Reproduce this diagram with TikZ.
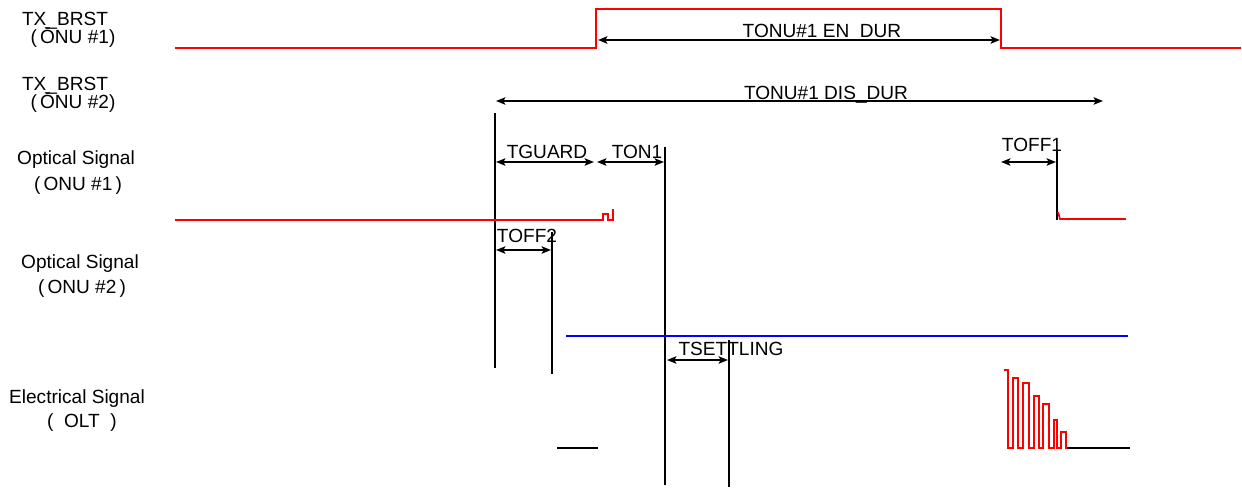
\documentclass[tikz,border=0pt]{standalone}
\usepackage{fontspec}
\setmainfont{Liberation Sans}
\usetikzlibrary{arrows.meta}
\begin{document}
\begin{tikzpicture}[x=0.75pt,y=-0.75pt,
  lbl/.style={font=\fontsize{14.3}{17}\selectfont, inner sep=0pt, anchor=base},
  dimline/.style={line width=1.6pt, {Stealth[length=7pt,width=5.5pt,inset=1.5pt]}-{Stealth[length=7pt,width=5.5pt,inset=1.5pt]}},
  vline/.style={line width=1.7pt},
  redwave/.style={red, line width=1.3pt},
  pulse/.style={red, line width=1.6pt, line join=miter},
  bluewave/.style={blue, line width=1.7pt},
  flat/.style={black, line width=2pt}]
\useasboundingbox (0,0) rectangle (1242,487);

% left labels
\node[lbl] (tx1a) at (65,25) {TX\_BRST};
\node[lbl] (tx1b) at (73,43) {(\,\=ONU \#1)};
\node[lbl] (tx2a) at (65,90) {TX\_BRST};
\node[lbl] (tx2b) at (73,108) {(\,\=ONU \#2)};
\node[lbl] (op1a) at (76,164) {Optical Signal};
\node[lbl] (op1b) at (78,190) {(\,ONU \#1\,)};
\node[lbl] (op2a) at (80,268) {Optical Signal};
\node[lbl] (op2b) at (82,293) {(\,ONU \#2\,)};
\node[lbl] (ela) at (77,403) {Electrical Signal};
\node[lbl] (elb) at (82,427) {(\ \ OLT\ \ )};

% TX_BRST ONU#1 waveform
\draw[redwave] (175,48) -- (596,48) -- (596,9) -- (1001,9) -- (1001,48) -- (1241,48);

% EN_DUR
\coordinate (en1) at (598,40);
\coordinate (en2) at (1000,40);
\draw[dimline] (en1) -- (en2);
\node[lbl] (enl) at (822,37) {TONU\#1 EN\_DUR};

% DIS_DUR
\coordinate (dis1) at (496,101);
\coordinate (dis2) at (1103,101);
\draw[dimline] (dis1) -- (dis2);
\node[lbl] (disl) at (826,99) {TONU\#1 DIS\_DUR};

% vertical markers
\coordinate (v1t) at (495,113); \coordinate (v1b) at (495,368);
\draw[vline] (v1t) -- (v1b);
\coordinate (v2t) at (665,147); \coordinate (v2b) at (665,485);
\draw[vline] (v2t) -- (v2b);
\coordinate (v3t) at (552,232); \coordinate (v3b) at (552,374);
\draw[vline] (v3t) -- (v3b);
\coordinate (v4t) at (729,340); \coordinate (v4b) at (729,487);
\draw[vline] (v4t) -- (v4b);
\coordinate (v5t) at (1057,150); \coordinate (v5b) at (1057,220);
\draw[vline] (v5t) -- (v5b);

% TGUARD / TON1
\coordinate (tg1) at (496,162); \coordinate (tg2) at (594,162);
\draw[dimline] (tg1) -- (tg2);
\node[lbl] (tgl) at (547,158) {TGUARD};
\coordinate (to1) at (597,162); \coordinate (to2) at (664,162);
\draw[dimline] (to1) -- (to2);
\node[lbl] (tol) at (637,158) {TON1};

% Optical ONU#1 waveform
\draw[redwave] (175,220) -- (603,220) -- (603,214) -- (608,214) -- (608,220) -- (613,220) -- (613,209);

% TOFF1
\coordinate (tf1a) at (1001,162); \coordinate (tf1b) at (1056,162);
\draw[dimline] (tf1a) -- (tf1b);
\node[lbl] (tf1l) at (1032,151) {TOFF1};
\draw[redwave] (1058,212) -- (1060,219) -- (1126,219);

% TOFF2
\coordinate (tf2a) at (496,250); \coordinate (tf2b) at (551,250);
\draw[dimline] (tf2a) -- (tf2b);
\node[lbl] (tf2l) at (527,242) {TOFF2};

% Blue line
\draw[bluewave] (566,336) -- (1128,336);

% TSETTLING
\coordinate (ts1) at (667,360); \coordinate (ts2) at (728,360);
\draw[dimline] (ts1) -- (ts2);
\node[lbl] (tsl) at (731,355) {TSETTLING};

% Electrical signal
\draw[flat] (557,448) -- (598,448);
\draw[flat] (1067,448) -- (1130,448);
\draw[pulse] (1004,370) -- (1008,370) -- (1008,448) -- (1013,448) -- (1013,378) -- (1018,378) -- (1018,448)
  -- (1023,448) -- (1023,383) -- (1029,383) -- (1029,448) -- (1034,448) -- (1034,396) -- (1039,396) -- (1039,448)
  -- (1043,448) -- (1043,404) -- (1049,404) -- (1049,448) -- (1054,448) -- (1054,420) -- (1057,420) -- (1057,448)
  -- (1061,448) -- (1061,432) -- (1066,432) -- (1066,448) -- (1067,448);
\end{tikzpicture}
\end{document}
